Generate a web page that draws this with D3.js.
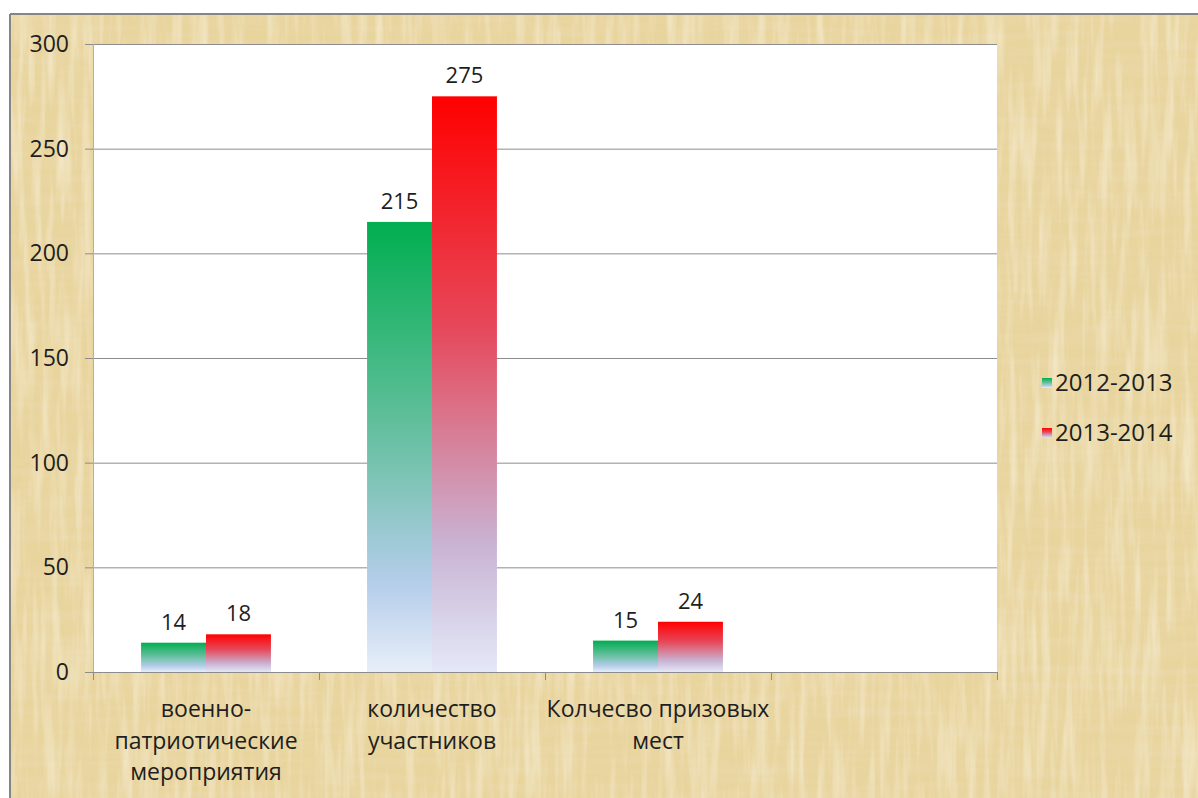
<!DOCTYPE html>
<html>
<head>
<meta charset="utf-8">
<script src="https://cdn.jsdelivr.net/npm/d3@7"></script>
<style>
  body { margin: 0; background: #fff; }
  text { font-family: "Open Sans", "Noto Sans", sans-serif; fill: #1e1e1e; }
</style>
</head>
<body>
<script>
var categories = [
  ["военно-", "патриотические", "мероприятия"],
  ["количество", "участников"],
  ["Колчесво призовых", "мест"],
  [""]
];
var seriesNames = ["2012-2013", "2013-2014"];
var values2012 = [14, 215, 15, null];
var values2013 = [18, 275, 24, null];
var yTicks = [0, 50, 100, 150, 200, 250, 300];

var width = 1198, height = 798;
var plot = {left: 93, top: 44, right: 997, bottom: 672};

var svg = d3.select("body").append("svg")
    .attr("width", width)
    .attr("height", height);

var defs = svg.append("defs");

// paper texture: two stretched noises for a woven look
var f = defs.append("filter").attr("id", "paper")
    .attr("x", 0).attr("y", 0).attr("width", "100%").attr("height", "100%");
f.append("feTurbulence").attr("type", "fractalNoise")
    .attr("baseFrequency", "0.12 0.01").attr("numOctaves", 3).attr("seed", 2)
    .attr("result", "nv");
f.append("feTurbulence").attr("type", "fractalNoise")
    .attr("baseFrequency", "0.01 0.12").attr("numOctaves", 3).attr("seed", 7)
    .attr("result", "nh");
f.append("feColorMatrix").attr("in", "nv").attr("type", "matrix")
    .attr("values", "0 0 0 0 0.95  0 0 0 0 0.88  0 0 0 0 0.69  1.2 0 0 0 -0.5")
    .attr("result", "lv");
f.append("feColorMatrix").attr("in", "nh").attr("type", "matrix")
    .attr("values", "0 0 0 0 0.82  0 0 0 0 0.71  0 0 0 0 0.45  1.0 0 0 0 -0.42")
    .attr("result", "dh");
f.append("feMerge").selectAll("feMergeNode")
    .data(["SourceGraphic", "dh", "lv"]).enter().append("feMergeNode")
    .attr("in", function(d) { return d; });

var grads = [
  {id: "g0", stops: [["0%", "#00ae50"], ["45%", "#62bf9c"], ["80%", "#b4cdea"], ["100%", "#e8eef9"]]},
  {id: "g1", stops: [["0%", "#ff0000"], ["40%", "#e6485a"], ["78%", "#c9b4d4"], ["100%", "#e4e8f7"]]}
];
grads.forEach(function(g) {
  var lg = defs.append("linearGradient").attr("id", g.id)
      .attr("x1", 0).attr("y1", 0).attr("x2", 0).attr("y2", 1);
  g.stops.forEach(function(s) {
    lg.append("stop").attr("offset", s[0]).attr("stop-color", s[1]);
  });
});

// background
svg.append("rect").attr("x", 10).attr("y", 14)
    .attr("width", width - 10).attr("height", height - 14)
    .attr("fill", "#e8d49d").attr("filter", "url(#paper)");
svg.append("line").attr("x1", 10).attr("x2", width).attr("y1", 14).attr("y2", 14)
    .attr("stroke", "#858585").attr("stroke-width", 2);
svg.append("line").attr("x1", 10).attr("x2", 10).attr("y1", 14).attr("y2", height)
    .attr("stroke", "#858585").attr("stroke-width", 2);

// plot area
svg.append("rect").attr("x", plot.left).attr("y", plot.top)
    .attr("width", plot.right - plot.left).attr("height", plot.bottom - plot.top)
    .attr("fill", "#fff");

var x0 = d3.scaleBand().domain(d3.range(categories.length))
    .range([plot.left, plot.right]).paddingInner(0).paddingOuter(0);
var x1 = d3.scaleBand().domain([0, 1])
    .range([0, x0.bandwidth()]).paddingOuter(0.74).paddingInner(0);
var y = d3.scaleLinear().domain([0, 300]).range([plot.bottom, plot.top]);

// gridlines
svg.append("g").selectAll("line").data(yTicks.slice(1)).enter().append("line")
    .attr("x1", plot.left).attr("x2", plot.right)
    .attr("y1", function(d) { return y(d) + 0.5; })
    .attr("y2", function(d) { return y(d) + 0.5; })
    .attr("stroke", "#8c8c8c").attr("stroke-width", 1);

// y axis
var yAxis = svg.append("g").attr("transform", "translate(" + plot.left + ",0)")
    .call(d3.axisLeft(y).tickValues(yTicks).tickSize(8).tickPadding(16));
yAxis.select(".domain").attr("stroke", "#b0b0b0");
yAxis.selectAll(".tick line").attr("stroke", "#8c8c8c");
yAxis.selectAll(".tick text").style("font-size", "23px")
    .style("font-family", "'Open Sans', sans-serif").attr("fill", "#1e1e1e");

// bars
var series = [values2012, values2013];
series.forEach(function(vals, si) {
  var g = svg.append("g");
  var data = vals.map(function(v, i) { return {i: i, v: v}; })
      .filter(function(d) { return d.v != null; });
  g.selectAll("rect").data(data).enter().append("rect")
      .attr("x", function(d) { return x0(d.i) + x1(si); })
      .attr("width", x1.bandwidth())
      .attr("y", function(d) { return y(d.v); })
      .attr("height", function(d) { return y(0) - y(d.v); })
      .attr("fill", "url(#g" + si + ")");
  g.selectAll("text").data(data).enter().append("text")
      .attr("x", function(d) { return x0(d.i) + x1(si) + x1.bandwidth() / 2; })
      .attr("y", function(d) { return y(d.v) - 13; })
      .attr("text-anchor", "middle")
      .style("font-size", "22px")
      .text(function(d) { return d.v; });
});

// x axis
var xAxis = svg.append("g").attr("transform", "translate(0," + plot.bottom + ")");
xAxis.append("line").attr("x1", plot.left).attr("x2", plot.right)
    .attr("y1", 0.5).attr("y2", 0.5).attr("stroke", "#8c8c8c");
var edges = categories.map(function(c, i) { return x0(i); }).concat([plot.right]);
xAxis.selectAll(".tk").data(edges).enter().append("line")
    .attr("x1", function(d) { return d + 0.5; }).attr("x2", function(d) { return d + 0.5; })
    .attr("y1", 0).attr("y2", 8).attr("stroke", "#8c8c8c");
xAxis.selectAll(".lbl").data(categories).enter().append("text")
    .attr("text-anchor", "middle")
    .style("font-size", "23px")
    .each(function(lines, i) {
      var t = d3.select(this);
      lines.forEach(function(l, k) {
        t.append("tspan").attr("x", x0(i) + x0.bandwidth() / 2)
            .attr("y", 45 + k * 31.5).text(l);
      });
    });

// legend
var legend = svg.append("g").attr("transform", "translate(1042,383)");
seriesNames.forEach(function(name, i) {
  var row = legend.append("g").attr("transform", "translate(0," + i * 50 + ")");
  row.append("rect").attr("x", 0).attr("y", -5).attr("width", 10).attr("height", 10)
      .attr("fill", "url(#g" + i + ")");
  row.append("text").attr("x", 13).attr("y", 8).style("font-size", "24px").text(name);
});
</script>
</body>
</html>
